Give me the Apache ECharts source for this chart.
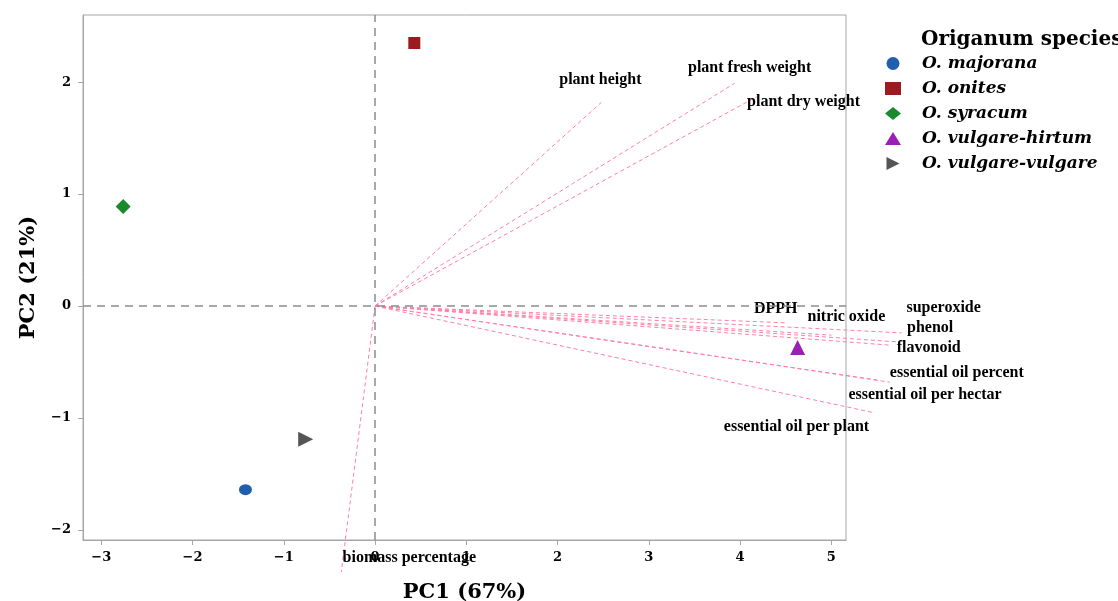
<!DOCTYPE html>
<html>
<head>
<meta charset="utf-8">
<script src="https://cdn.jsdelivr.net/npm/echarts@6/dist/echarts.min.js"></script>
<style>html,body{margin:0;padding:0;background:#fff}#c{width:1118px;height:601px}</style>
</head>
<body>
<div id="c"></div>
<script>
// ---- data ----
const speciesNames = ['O. majorana', 'O. onites', 'O. syracum', 'O. vulgare-hirtum', 'O. vulgare-vulgare'];
const speciesPC1 = [-1.42, 0.43, -2.76, 4.63, -0.76];
const speciesPC2 = [-1.64, 2.35, 0.89, -0.37, -1.19];

const loadingNames = ['plant height', 'plant fresh weight', 'plant dry weight', 'DPPH', 'nitric oxide',
  'superoxide', 'phenol', 'flavonoid', 'essential oil percent', 'essential oil per hectar',
  'essential oil per plant', 'biomass percentage'];
const loadingPC1 = [2.48, 3.94, 4.18, 4.50, 5.00, 5.77, 5.72, 5.65, 5.64, 5.50, 5.45, -0.37];
const loadingPC2 = [1.82, 1.99, 1.87, -0.15, -0.26, -0.24, -0.32, -0.35, -0.68, -0.66, -0.95, -2.375];

const xTicks = [-3, -2, -1, 0, 1, 2, 3, 4, 5];
const yTicks = [-2, -1, 0, 1, 2];

// ---- styles ----
const RIGHT_TRI = 'path://M0,0 L10,5 L0,10 Z';
const speciesStyle = {
  'O. majorana': {symbol: 'circle', size: [13, 11], color: '#1f5fae', rotate: 0, icon: 'circle'},
  'O. onites': {symbol: 'rect', size: 12, color: '#9b1b1e', rotate: 0, icon: 'rect'},
  'O. syracum': {symbol: 'diamond', size: 15, color: '#1b8a2e', rotate: 0, icon: 'diamond'},
  'O. vulgare-hirtum': {symbol: 'triangle', size: 15, color: '#9a1fb4', rotate: 0, icon: 'triangle'},
  'O. vulgare-vulgare': {symbol: 'triangle', size: 15, color: '#555555', rotate: -90, icon: RIGHT_TRI}
};
const labelOffset = {
  'plant height': [-1, -22],
  'plant fresh weight': [15, -15],
  'plant dry weight': [47, 5],
  'DPPH': [-10, -14],
  'nitric oxide': [15, -18],
  'superoxide': [42, -25],
  'phenol': [33, -14],
  'flavonoid': [38, 3],
  'essential oil percent': [67, -9],
  'essential oil per hectar': [48, 15],
  'essential oil per plant': [-76, 14],
  'biomass percentage': [68, -14]
};
const SERIF = '"Liberation Serif", "DejaVu Serif", serif';
const WIDE = '"DejaVu Serif", serif';
const AXIS_GRAY = '#a6a6a6';
const PINK = '#ff7fa6';

const series = [];
speciesNames.forEach((n, i) => {
  const s = speciesStyle[n];
  series.push({
    name: n, type: 'scatter', symbol: s.symbol, symbolSize: s.size, symbolRotate: s.rotate,
    itemStyle: {color: s.color, opacity: 1}, z: 5,
    data: [[speciesPC1[i], speciesPC2[i]]]
  });
});

const loadingData = loadingNames.map((n, i) => [loadingPC1[i], loadingPC2[i], i]);
series.push({
  name: 'loadings', type: 'custom', clip: false, silent: true, z: 3,
  data: loadingData,
  encode: {x: 0, y: 1},
  renderItem: function (params, api) {
    const o = api.coord([0, 0]);
    const e = api.coord([api.value(0), api.value(1)]);
    const name = loadingNames[api.value(2)];
    const off = labelOffset[name];
    return {
      type: 'group',
      children: [
        {type: 'line', shape: {x1: o[0], y1: o[1], x2: e[0], y2: e[1]},
          style: {stroke: PINK, lineWidth: 1, lineDash: [4, 3], fill: null}},
        {type: 'text', x: e[0] + off[0], y: e[1] + off[1],
          style: {text: name, fill: '#000', align: 'center', verticalAlign: 'middle',
            font: 'bold 16px ' + SERIF}}
      ]
    };
  }
});

// zero reference lines
series.push({
  name: 'ref', type: 'line', data: [], silent: true,
  markLine: {
    silent: true, symbol: 'none', animation: false, label: {show: false},
    lineStyle: {color: '#8c8c8c', width: 1.5, type: [8, 6]},
    data: [{xAxis: 0}, {yAxis: 0}]
  }
});

const legendData = speciesNames.map(n => ({name: n, icon: speciesStyle[n].icon}));

const chart = echarts.init(document.getElementById('c'), null, {renderer: 'canvas'});
chart.setOption({
  animation: false,
  backgroundColor: '#fff',
  title: {
    text: 'Origanum species', left: 916, top: 25,
    textStyle: {fontFamily: WIDE, fontSize: 20, fontWeight: 'bold', color: '#000'}
  },
  legend: {
    orient: 'vertical', left: 880, top: 50, itemGap: 8, itemWidth: 16, itemHeight: 13,
    data: legendData,
    textStyle: {fontFamily: WIDE, fontSize: 17, fontStyle: 'italic', fontWeight: 'bold', color: '#000',
      padding: [0, 0, 0, 16]}
  },
  grid: {left: 83, top: 15, right: 272, bottom: 61, show: true, borderColor: AXIS_GRAY, borderWidth: 1,
    outerBoundsMode: 'none', containLabel: false},
  xAxis: {
    type: 'value', min: -3.2, max: 5.16,
    name: 'PC1 (67%)', nameLocation: 'middle', nameGap: 42,
    nameTextStyle: {fontFamily: WIDE, fontSize: 21, fontWeight: 'bold', color: '#000'},
    axisLine: {show: true, onZero: false, lineStyle: {color: AXIS_GRAY}},
    axisTick: {show: true, length: 5, lineStyle: {color: AXIS_GRAY}, customValues: xTicks},
    axisLabel: {customValues: xTicks, fontFamily: WIDE, fontSize: 13, fontWeight: 'bold', color: '#000', margin: 11,
      formatter: v => (v < 0 ? '\u2212' + Math.abs(v) : String(v))},
    splitLine: {show: false}
  },
  yAxis: {
    type: 'value', min: -2.09, max: 2.6,
    name: 'PC2 (21%)', nameLocation: 'middle', nameGap: 44, nameRotate: 90,
    nameTextStyle: {fontFamily: WIDE, fontSize: 21, fontWeight: 'bold', color: '#000'},
    axisLine: {show: true, onZero: false, lineStyle: {color: AXIS_GRAY}},
    axisTick: {show: true, length: 5, lineStyle: {color: AXIS_GRAY}, customValues: yTicks},
    axisLabel: {customValues: yTicks, fontFamily: WIDE, fontSize: 13, fontWeight: 'bold', color: '#000', margin: 12,
      formatter: v => (v < 0 ? '\u2212' + Math.abs(v) : String(v))},
    splitLine: {show: false}
  },
  series: series
});
</script>
</body>
</html>
